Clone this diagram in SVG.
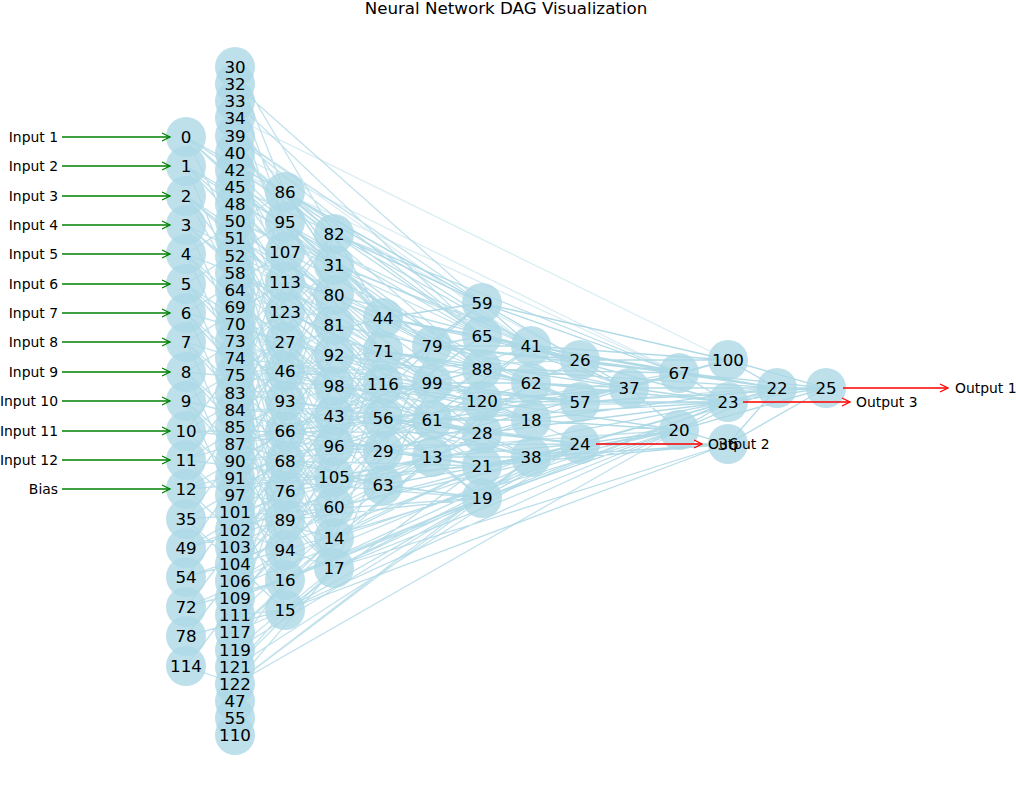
<svg xmlns="http://www.w3.org/2000/svg" width="1016" height="792" viewBox="0 0 1016 792">
<style>
  .bg { fill: #ffffff; }
  .title { font-family: "DejaVu Sans", "Liberation Sans", sans-serif; font-size: 16.7px; fill: #000; text-anchor: middle; }
  .edge { fill: none; stroke: #add8e6; stroke-width: 1.3; }
  .node circle { fill: #add8e6; fill-opacity: 0.8; }
  .lbl { font-family: "DejaVu Sans", "Liberation Sans", sans-serif; font-size: 16.7px; fill: #000; text-anchor: middle; }
  .io { font-family: "DejaVu Sans", "Liberation Sans", sans-serif; font-size: 13.9px; fill: #000; }
  .in-lbl { text-anchor: end; }
  .in-arrow { stroke: #008000; stroke-width: 1.3; fill: none; marker-end: url(#headG); }
  .out-arrow { stroke: #ff0000; stroke-width: 1.3; fill: none; marker-end: url(#headR); }
</style>
<defs>
  <marker id="headG" markerUnits="userSpaceOnUse" markerWidth="12" markerHeight="12" refX="9" refY="5" orient="auto">
    <path d="M1,1 L9,5 L1,9" fill="none" stroke="#008000" stroke-width="1.3"/>
  </marker>
  <marker id="headR" markerUnits="userSpaceOnUse" markerWidth="12" markerHeight="12" refX="9" refY="5" orient="auto">
    <path d="M1,1 L9,5 L1,9" fill="none" stroke="#ff0000" stroke-width="1.3"/>
  </marker>
</defs>
<rect class="bg" x="0" y="0" width="1016" height="792"/>
<text class="title" x="506" y="14">Neural Network DAG Visualization</text>

<!-- connections between neurons -->
<g id="connectors">
  <!-- from input layer -->
  <path class="edge" stroke-opacity="0.8" d="M186 137L285 192M186 137L285 222M186 137L334 234M186 137L285 342M186 137L383 318M186 137L482 303
  M186 166L285 252M186 166L334 265M186 166L285 401M186 166L334 325M186 166L482 336
  M186 196L285 282M186 196L334 295M186 196L285 371M186 196L383 351M186 196L334 386
  M186 225L285 312M186 225L334 355M186 225L285 431M186 225L432 346M186 225L383 384
  M186 254L285 342M186 254L334 416M186 254L285 461M186 254L285 192M186 254L482 369
  M186 284L285 371M186 284L334 446M186 284L285 491M186 284L285 222M186 284L383 418
  M186 313L285 401M186 313L334 477M186 313L285 520M186 313L285 252M186 313L432 383
  M186 342L285 431M186 342L334 507M186 342L285 550M186 342L285 282M186 342L432 420
  M186 372L285 461M186 372L334 538M186 372L285 580M186 372L285 312M186 372L482 401
  M186 401L285 491M186 401L334 568M186 401L285 610M186 401L285 342M186 401L383 451
  M186 431L285 520M186 431L334 234M186 431L285 371M186 431L432 457M186 431L482 433
  M186 460L285 550M186 460L334 265M186 460L285 401M186 460L383 485M186 460L531 346
  M186 489L285 580M186 489L334 295M186 489L285 431M186 489L482 466M186 489L531 383
  M186 519L285 610M186 519L334 325M186 519L285 461M186 519L482 498
  M186 548L334 355M186 548L285 491M186 548L285 520M186 548L531 420
  M186 577L334 386M186 577L285 550M186 577L531 457
  M186 607L334 416M186 607L285 580M186 607L580 444
  M186 636L285 610M186 636L334 446
  M186 666L235 684M186 666L334 477"/>
  <!-- long faint links from the upper hidden nodes -->
  <path class="edge" stroke-opacity="0.45" d="M235 118L728 360M235 153L679 373M235 170L679 373M235 136L531 346M235 170L580 360"/>
  <!-- from the wide hidden column -->
  <path class="edge" stroke-opacity="0.75" d="M235 67L285 192M235 67L334 234
  M235 84L285 222M235 84L482 303
  M235 101L285 252M235 101L482 336
  M235 118L285 192M235 118L334 265
  M235 136L482 303M235 136L482 336M235 136L285 222M235 136L334 295
  M235 153L482 369M235 153L334 234M235 153L285 282
  M235 170L285 252M235 170L383 318
  M235 187L285 312M235 187L334 325M235 187L432 346M235 187L482 303
  M235 204L285 342M235 204L334 355M235 204L383 351M235 204L531 346
  M235 221L285 371M235 221L334 386M235 221L482 336M235 221L629 388
  M235 238L285 401M235 238L334 416M235 238L383 384M235 238L482 369
  M235 256L285 431M235 256L334 446M235 256L432 383M235 256L531 383
  M235 273L285 461M235 273L334 477M235 273L383 418M235 273L482 401
  M235 290L285 491M235 290L334 507M235 290L432 420M235 290L531 420
  M235 307L285 520M235 307L334 538M235 307L383 451M235 307L482 433
  M235 324L285 550M235 324L334 568M235 324L432 457M235 324L482 466
  M235 341L285 580M235 341L334 234M235 341L383 485M235 341L531 457
  M235 358L285 610M235 358L334 265M235 358L383 318M235 358L580 402
  M235 375L285 192M235 375L334 295M235 375L383 351M235 375L580 360
  M235 393L285 222M235 393L334 325M235 393L383 384M235 393L580 444
  M235 410L285 252M235 410L334 355M235 410L383 418M235 410L728 402
  M235 427L285 282M235 427L334 386M235 427L383 451M235 427L777 388
  M235 444L285 312M235 444L334 416M235 444L383 485M235 444L679 373
  M235 461L285 342M235 461L334 446M235 461L432 346M235 461L679 430
  M235 478L285 371M235 478L334 477M235 478L432 383M235 478L482 498
  M235 495L285 401M235 495L334 507M235 495L432 420M235 495L482 303
  M235 512L285 431M235 512L334 538M235 512L432 457M235 512L482 336
  M235 530L285 461M235 530L334 568M235 530L383 318M235 530L482 369
  M235 547L285 491M235 547L334 234M235 547L383 351M235 547L482 401
  M235 564L285 520M235 564L334 265M235 564L383 384M235 564L482 433
  M235 581L285 550M235 581L334 295M235 581L383 418M235 581L482 466
  M235 598L285 580M235 598L334 325M235 598L383 451M235 598L482 498
  M235 615L285 610M235 615L334 355M235 615L383 485
  M235 632L285 610M235 632L334 538M235 632L432 457
  M235 650L285 580M235 650L334 568M235 650L482 498
  M235 667L285 610M235 667L334 568M235 667L580 444
  M235 684L334 568M235 684L482 498M235 684L679 430M235 684L531 457"/>
  <!-- third and fourth columns -->
  <path class="edge" stroke-opacity="0.85" d="M285 192L334 234M285 192L334 265M285 192L482 303M285 192L482 336M285 192L531 346M285 192L383 318
  M285 222L334 265M285 222L334 295M285 222L432 346M285 222L482 369
  M285 252L334 295M285 252L334 325M285 252L383 351M285 252L531 383
  M285 282L334 325M285 282L334 355M285 282L383 384M285 282L580 360
  M285 312L334 355M285 312L334 386M285 312L432 383M285 312L482 401
  M285 342L334 386M285 342L334 416M285 342L383 418M285 342L531 420
  M285 371L334 416M285 371L334 446M285 371L432 420M285 371L580 402
  M285 401L334 446M285 401L334 477M285 401L383 451M285 401L482 433
  M285 431L334 477M285 431L334 507M285 431L432 457M285 431L629 388
  M285 461L334 507M285 461L334 538M285 461L383 485M285 461L482 466
  M285 491L334 538M285 491L334 568M285 491L432 346M285 491L531 457
  M285 520L334 568M285 520L383 318M285 520L482 498M285 520L580 444
  M285 550L383 351M285 550L432 383M285 550L679 430
  M285 580L482 498M285 580L580 444M285 580L728 402M285 580L432 457
  M285 610L482 498M285 610L679 430M285 610L728 444M285 610L482 466
  M334 234L482 303M334 234L482 336M334 234L531 346M334 234L679 373M334 234L383 318
  M334 265L383 318M334 265L432 346M334 265L482 369M334 265L580 360
  M334 295L383 351M334 295L432 383M334 295L482 401M334 295L580 402
  M334 325L383 384M334 325L432 420M334 325L482 433M334 325L629 388
  M334 355L383 418M334 355L432 457M334 355L482 466M334 355L531 383
  M334 386L383 451M334 386L432 346M334 386L482 498M334 386L531 420
  M334 416L383 485M334 416L432 383M334 416L482 303M334 416L531 457
  M334 446L383 318M334 446L432 420M334 446L482 336M334 446L580 444
  M334 477L383 351M334 477L432 457M334 477L482 369M334 477L728 402
  M334 507L383 384M334 507L482 433M334 507L531 346M334 507L679 430
  M334 538L383 418M334 538L482 466M334 538L531 383M334 538L777 388
  M334 568L383 451M334 568L482 498M334 568L580 444M334 568L679 430M334 568L728 444"/>
  <!-- deeper layers toward the outputs -->
  <path class="edge" stroke-opacity="0.95" d="M383 318L432 346M383 318L482 303M383 318L482 336M383 318L531 346M383 318L580 360
  M383 351L432 383M383 351L482 369M383 351L531 383M383 351L629 388
  M383 384L432 420M383 384L482 401M383 384L531 420M383 384L580 402
  M383 418L432 457M383 418L482 433M383 418L531 457M383 418L580 444
  M383 451L432 346M383 451L482 466M383 451L531 346M383 451L679 373
  M383 485L432 383M383 485L482 498M383 485L531 383M383 485L679 430
  M432 346L482 303M432 346L482 336M432 346L531 346M432 346L580 360M432 346L679 373
  M432 383L482 369M432 383L482 401M432 383L531 383M432 383L580 402
  M432 420L482 433M432 420L531 420M432 420L629 388M432 420L728 402
  M432 457L482 466M432 457L482 498M432 457L531 457M432 457L580 444
  M482 303L531 346M482 303L580 360M482 303L679 373M482 303L728 360
  M482 336L531 346M482 336L580 360M482 336L629 388M482 336L728 402
  M482 369L531 383M482 369L580 402M482 369L679 373M482 369L777 388
  M482 401L531 420M482 401L580 402M482 401L629 388M482 401L679 430
  M482 433L531 420M482 433L531 457M482 433L580 444M482 433L728 402
  M482 466L531 457M482 466L580 444M482 466L679 430M482 466L728 444
  M482 498L531 457M482 498L580 444M482 498L679 430M482 498L728 402
  M531 346L580 360M531 346L629 388M531 346L679 373M531 346L728 360M531 346L777 388
  M531 383L580 360M531 383L580 402M531 383L629 388M531 383L728 402
  M531 420L580 402M531 420L580 444M531 420L679 430M531 420L777 388
  M531 457L580 444M531 457L679 430M531 457L728 444M531 457L728 402
  M580 360L629 388M580 360L679 373M580 360L728 360M580 360L777 388
  M580 402L629 388M580 402L679 373M580 402L728 402M580 402L826 388
  M580 444L679 430M580 444L728 402M580 444L728 444
  M629 388L679 373M629 388L679 430M629 388L728 360M629 388L728 402M629 388L777 388M629 388L826 388
  M679 373L728 360M679 373L728 402M679 373L777 388M679 373L826 388
  M679 430L728 402M679 430L728 444M679 430L777 388M679 430L826 388
  M728 360L777 388M728 360L826 388M728 402L777 388M728 402L826 388M728 444L777 388M728 444L826 388
  M777 388L826 388"/>
</g>

<!-- neuron discs; their number labels follow in a layer above -->
<g id="nodes">
<!-- input column -->
<g id="n0" class="node"><circle cx="186" cy="137" r="20"/></g>
<g id="n1" class="node"><circle cx="186" cy="166" r="20"/></g>
<g id="n2" class="node"><circle cx="186" cy="196" r="20"/></g>
<g id="n3" class="node"><circle cx="186" cy="225" r="20"/></g>
<g id="n4" class="node"><circle cx="186" cy="254" r="20"/></g>
<g id="n5" class="node"><circle cx="186" cy="284" r="20"/></g>
<g id="n6" class="node"><circle cx="186" cy="313" r="20"/></g>
<g id="n7" class="node"><circle cx="186" cy="342" r="20"/></g>
<g id="n8" class="node"><circle cx="186" cy="372" r="20"/></g>
<g id="n9" class="node"><circle cx="186" cy="401" r="20"/></g>
<g id="n10" class="node"><circle cx="186" cy="431" r="20"/></g>
<g id="n11" class="node"><circle cx="186" cy="460" r="20"/></g>
<g id="n12" class="node"><circle cx="186" cy="489" r="20"/></g>
<g id="n35" class="node"><circle cx="186" cy="519" r="20"/></g>
<g id="n49" class="node"><circle cx="186" cy="548" r="20"/></g>
<g id="n54" class="node"><circle cx="186" cy="577" r="20"/></g>
<g id="n72" class="node"><circle cx="186" cy="607" r="20"/></g>
<g id="n78" class="node"><circle cx="186" cy="636" r="20"/></g>
<g id="n114" class="node"><circle cx="186" cy="666" r="20"/></g>
<!-- wide hidden column -->
<g id="n30" class="node"><circle cx="235" cy="67" r="20"/></g>
<g id="n32" class="node"><circle cx="235" cy="84" r="20"/></g>
<g id="n33" class="node"><circle cx="235" cy="101" r="20"/></g>
<g id="n34" class="node"><circle cx="235" cy="118" r="20"/></g>
<g id="n39" class="node"><circle cx="235" cy="136" r="20"/></g>
<g id="n40" class="node"><circle cx="235" cy="153" r="20"/></g>
<g id="n42" class="node"><circle cx="235" cy="170" r="20"/></g>
<g id="n45" class="node"><circle cx="235" cy="187" r="20"/></g>
<g id="n48" class="node"><circle cx="235" cy="204" r="20"/></g>
<g id="n50" class="node"><circle cx="235" cy="221" r="20"/></g>
<g id="n51" class="node"><circle cx="235" cy="238" r="20"/></g>
<g id="n52" class="node"><circle cx="235" cy="256" r="20"/></g>
<g id="n58" class="node"><circle cx="235" cy="273" r="20"/></g>
<g id="n64" class="node"><circle cx="235" cy="290" r="20"/></g>
<g id="n69" class="node"><circle cx="235" cy="307" r="20"/></g>
<g id="n70" class="node"><circle cx="235" cy="324" r="20"/></g>
<g id="n73" class="node"><circle cx="235" cy="341" r="20"/></g>
<g id="n74" class="node"><circle cx="235" cy="358" r="20"/></g>
<g id="n75" class="node"><circle cx="235" cy="375" r="20"/></g>
<g id="n83" class="node"><circle cx="235" cy="393" r="20"/></g>
<g id="n84" class="node"><circle cx="235" cy="410" r="20"/></g>
<g id="n85" class="node"><circle cx="235" cy="427" r="20"/></g>
<g id="n87" class="node"><circle cx="235" cy="444" r="20"/></g>
<g id="n90" class="node"><circle cx="235" cy="461" r="20"/></g>
<g id="n91" class="node"><circle cx="235" cy="478" r="20"/></g>
<g id="n97" class="node"><circle cx="235" cy="495" r="20"/></g>
<g id="n101" class="node"><circle cx="235" cy="512" r="20"/></g>
<g id="n102" class="node"><circle cx="235" cy="530" r="20"/></g>
<g id="n103" class="node"><circle cx="235" cy="547" r="20"/></g>
<g id="n104" class="node"><circle cx="235" cy="564" r="20"/></g>
<g id="n106" class="node"><circle cx="235" cy="581" r="20"/></g>
<g id="n109" class="node"><circle cx="235" cy="598" r="20"/></g>
<g id="n111" class="node"><circle cx="235" cy="615" r="20"/></g>
<g id="n117" class="node"><circle cx="235" cy="632" r="20"/></g>
<g id="n119" class="node"><circle cx="235" cy="650" r="20"/></g>
<g id="n121" class="node"><circle cx="235" cy="667" r="20"/></g>
<g id="n122" class="node"><circle cx="235" cy="684" r="20"/></g>
<g id="n47" class="node"><circle cx="235" cy="701" r="20"/></g>
<g id="n55" class="node"><circle cx="235" cy="718" r="20"/></g>
<g id="n110" class="node"><circle cx="235" cy="735" r="20"/></g>
<!-- third column -->
<g id="n86" class="node"><circle cx="285" cy="192" r="20"/></g>
<g id="n95" class="node"><circle cx="285" cy="222" r="20"/></g>
<g id="n107" class="node"><circle cx="285" cy="252" r="20"/></g>
<g id="n113" class="node"><circle cx="285" cy="282" r="20"/></g>
<g id="n123" class="node"><circle cx="285" cy="312" r="20"/></g>
<g id="n27" class="node"><circle cx="285" cy="342" r="20"/></g>
<g id="n46" class="node"><circle cx="285" cy="371" r="20"/></g>
<g id="n93" class="node"><circle cx="285" cy="401" r="20"/></g>
<g id="n66" class="node"><circle cx="285" cy="431" r="20"/></g>
<g id="n68" class="node"><circle cx="285" cy="461" r="20"/></g>
<g id="n76" class="node"><circle cx="285" cy="491" r="20"/></g>
<g id="n89" class="node"><circle cx="285" cy="520" r="20"/></g>
<g id="n94" class="node"><circle cx="285" cy="550" r="20"/></g>
<g id="n16" class="node"><circle cx="285" cy="580" r="20"/></g>
<g id="n15" class="node"><circle cx="285" cy="610" r="20"/></g>
<!-- fourth column -->
<g id="n82" class="node"><circle cx="334" cy="234" r="20"/></g>
<g id="n31" class="node"><circle cx="334" cy="265" r="20"/></g>
<g id="n80" class="node"><circle cx="334" cy="295" r="20"/></g>
<g id="n81" class="node"><circle cx="334" cy="325" r="20"/></g>
<g id="n92" class="node"><circle cx="334" cy="355" r="20"/></g>
<g id="n98" class="node"><circle cx="334" cy="386" r="20"/></g>
<g id="n43" class="node"><circle cx="334" cy="416" r="20"/></g>
<g id="n96" class="node"><circle cx="334" cy="446" r="20"/></g>
<g id="n105" class="node"><circle cx="334" cy="477" r="20"/></g>
<g id="n60" class="node"><circle cx="334" cy="507" r="20"/></g>
<g id="n14" class="node"><circle cx="334" cy="538" r="20"/></g>
<g id="n17" class="node"><circle cx="334" cy="568" r="20"/></g>
<!-- fifth column -->
<g id="n44" class="node"><circle cx="383" cy="318" r="20"/></g>
<g id="n71" class="node"><circle cx="383" cy="351" r="20"/></g>
<g id="n116" class="node"><circle cx="383" cy="384" r="20"/></g>
<g id="n56" class="node"><circle cx="383" cy="418" r="20"/></g>
<g id="n29" class="node"><circle cx="383" cy="451" r="20"/></g>
<g id="n63" class="node"><circle cx="383" cy="485" r="20"/></g>
<!-- sixth column -->
<g id="n79" class="node"><circle cx="432" cy="346" r="20"/></g>
<g id="n99" class="node"><circle cx="432" cy="383" r="20"/></g>
<g id="n61" class="node"><circle cx="432" cy="420" r="20"/></g>
<g id="n13" class="node"><circle cx="432" cy="457" r="20"/></g>
<!-- seventh column -->
<g id="n59" class="node"><circle cx="482" cy="303" r="20"/></g>
<g id="n65" class="node"><circle cx="482" cy="336" r="20"/></g>
<g id="n88" class="node"><circle cx="482" cy="369" r="20"/></g>
<g id="n120" class="node"><circle cx="482" cy="401" r="20"/></g>
<g id="n28" class="node"><circle cx="482" cy="433" r="20"/></g>
<g id="n21" class="node"><circle cx="482" cy="466" r="20"/></g>
<g id="n19" class="node"><circle cx="482" cy="498" r="20"/></g>
<!-- eighth column -->
<g id="n41" class="node"><circle cx="531" cy="346" r="20"/></g>
<g id="n62" class="node"><circle cx="531" cy="383" r="20"/></g>
<g id="n18" class="node"><circle cx="531" cy="420" r="20"/></g>
<g id="n38" class="node"><circle cx="531" cy="457" r="20"/></g>
<!-- toward the outputs -->
<g id="n26" class="node"><circle cx="580" cy="360" r="20"/></g>
<g id="n57" class="node"><circle cx="580" cy="402" r="20"/></g>
<g id="n24" class="node"><circle cx="580" cy="444" r="20"/></g>
<g id="n37" class="node"><circle cx="629" cy="388" r="20"/></g>
<g id="n67" class="node"><circle cx="679" cy="373" r="20"/></g>
<g id="n20" class="node"><circle cx="679" cy="430" r="20"/></g>
<g id="n100" class="node"><circle cx="728" cy="360" r="20"/></g>
<g id="n23" class="node"><circle cx="728" cy="402" r="20"/></g>
<g id="n36" class="node"><circle cx="728" cy="444" r="20"/></g>
<g id="n22" class="node"><circle cx="777" cy="388" r="20"/></g>
<g id="n25" class="node"><circle cx="826" cy="388" r="20"/></g>
</g>

<!-- neuron numbers -->
<g id="node-labels" class="lbl">
<text x="186" y="143">0</text><text x="186" y="172">1</text><text x="186" y="202">2</text><text x="186" y="231">3</text>
<text x="186" y="260">4</text><text x="186" y="290">5</text><text x="186" y="319">6</text><text x="186" y="348">7</text>
<text x="186" y="378">8</text><text x="186" y="407">9</text><text x="186" y="437">10</text><text x="186" y="466">11</text>
<text x="186" y="495">12</text><text x="186" y="525">35</text><text x="186" y="554">49</text><text x="186" y="583">54</text>
<text x="186" y="613">72</text><text x="186" y="642">78</text><text x="186" y="672">114</text>

<text x="235" y="73">30</text><text x="235" y="90">32</text><text x="235" y="107">33</text><text x="235" y="124">34</text>
<text x="235" y="142">39</text><text x="235" y="159">40</text><text x="235" y="176">42</text><text x="235" y="193">45</text>
<text x="235" y="210">48</text><text x="235" y="227">50</text><text x="235" y="244">51</text><text x="235" y="262">52</text>
<text x="235" y="279">58</text><text x="235" y="296">64</text><text x="235" y="313">69</text><text x="235" y="330">70</text>
<text x="235" y="347">73</text><text x="235" y="364">74</text><text x="235" y="381">75</text><text x="235" y="399">83</text>
<text x="235" y="416">84</text><text x="235" y="433">85</text><text x="235" y="450">87</text><text x="235" y="467">90</text>
<text x="235" y="484">91</text><text x="235" y="501">97</text><text x="235" y="518">101</text><text x="235" y="536">102</text>
<text x="235" y="553">103</text><text x="235" y="570">104</text><text x="235" y="587">106</text><text x="235" y="604">109</text>
<text x="235" y="621">111</text><text x="235" y="638">117</text><text x="235" y="656">119</text><text x="235" y="673">121</text>
<text x="235" y="690">122</text><text x="235" y="707">47</text><text x="235" y="724">55</text><text x="235" y="741">110</text>

<text x="285" y="198">86</text><text x="285" y="228">95</text><text x="285" y="258">107</text><text x="285" y="288">113</text>
<text x="285" y="318">123</text><text x="285" y="348">27</text><text x="285" y="377">46</text><text x="285" y="407">93</text>
<text x="285" y="437">66</text><text x="285" y="467">68</text><text x="285" y="497">76</text><text x="285" y="526">89</text>
<text x="285" y="556">94</text><text x="285" y="586">16</text><text x="285" y="616">15</text>

<text x="334" y="240">82</text><text x="334" y="271">31</text><text x="334" y="301">80</text><text x="334" y="331">81</text>
<text x="334" y="361">92</text><text x="334" y="392">98</text><text x="334" y="422">43</text><text x="334" y="452">96</text>
<text x="334" y="483">105</text><text x="334" y="513">60</text><text x="334" y="544">14</text><text x="334" y="574">17</text>

<text x="383" y="324">44</text><text x="383" y="357">71</text><text x="383" y="390">116</text><text x="383" y="424">56</text>
<text x="383" y="457">29</text><text x="383" y="491">63</text>

<text x="432" y="352">79</text><text x="432" y="389">99</text><text x="432" y="426">61</text><text x="432" y="463">13</text>

<text x="482" y="309">59</text><text x="482" y="342">65</text><text x="482" y="375">88</text><text x="482" y="407">120</text>
<text x="482" y="439">28</text><text x="482" y="472">21</text><text x="482" y="504">19</text>

<text x="531" y="352">41</text><text x="531" y="389">62</text><text x="531" y="426">18</text><text x="531" y="463">38</text>

<text x="580" y="366">26</text><text x="580" y="408">57</text><text x="580" y="450">24</text>
<text x="629" y="394">37</text>
<text x="679" y="379">67</text><text x="679" y="436">20</text>
<text x="728" y="366">100</text><text x="728" y="408">23</text><text x="728" y="450">36</text>
<text x="777" y="394">22</text><text x="826" y="394">25</text>
</g>

<!-- input feeds -->
<g id="inputs">
  <line class="in-arrow" x1="62" y1="137" x2="170" y2="137"/><text class="io in-lbl" x="58" y="142">Input 1</text>
  <line class="in-arrow" x1="62" y1="166" x2="170" y2="166"/><text class="io in-lbl" x="58" y="171">Input 2</text>
  <line class="in-arrow" x1="62" y1="196" x2="170" y2="196"/><text class="io in-lbl" x="58" y="201">Input 3</text>
  <line class="in-arrow" x1="62" y1="225" x2="170" y2="225"/><text class="io in-lbl" x="58" y="230">Input 4</text>
  <line class="in-arrow" x1="62" y1="254" x2="170" y2="254"/><text class="io in-lbl" x="58" y="259">Input 5</text>
  <line class="in-arrow" x1="62" y1="284" x2="170" y2="284"/><text class="io in-lbl" x="58" y="289">Input 6</text>
  <line class="in-arrow" x1="62" y1="313" x2="170" y2="313"/><text class="io in-lbl" x="58" y="318">Input 7</text>
  <line class="in-arrow" x1="62" y1="342" x2="170" y2="342"/><text class="io in-lbl" x="58" y="347">Input 8</text>
  <line class="in-arrow" x1="62" y1="372" x2="170" y2="372"/><text class="io in-lbl" x="58" y="377">Input 9</text>
  <line class="in-arrow" x1="62" y1="401" x2="170" y2="401"/><text class="io in-lbl" x="58" y="406">Input 10</text>
  <line class="in-arrow" x1="62" y1="431" x2="170" y2="431"/><text class="io in-lbl" x="58" y="436">Input 11</text>
  <line class="in-arrow" x1="62" y1="460" x2="170" y2="460"/><text class="io in-lbl" x="58" y="465">Input 12</text>
  <line class="in-arrow" x1="62" y1="489" x2="170" y2="489"/><text class="io in-lbl" x="58" y="494">Bias</text>
</g>

<!-- output taps -->
<g id="outputs">
  <line class="out-arrow" x1="843" y1="388" x2="948" y2="388"/><text class="io" x="955" y="393">Output 1</text>
  <line class="out-arrow" x1="743" y1="402" x2="850" y2="402"/><text class="io" x="856" y="407">Output 3</text>
  <line class="out-arrow" x1="596" y1="444" x2="702" y2="444"/><text class="io" x="708" y="449">Output 2</text>
</g>
</svg>
